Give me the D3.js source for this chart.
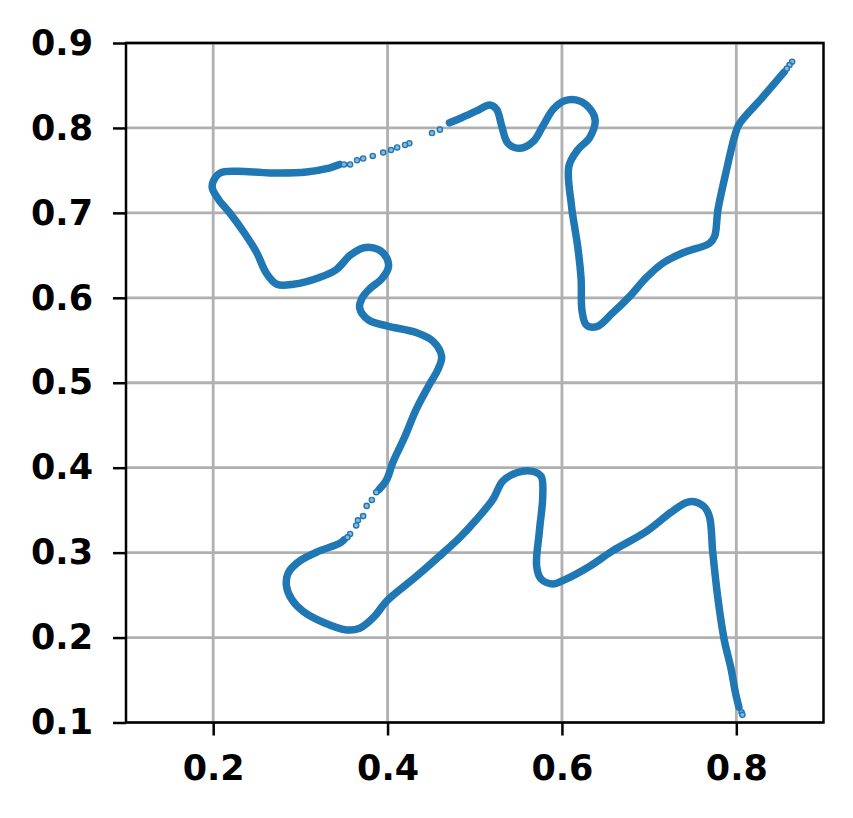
<!DOCTYPE html>
<html>
<head>
<meta charset="utf-8">
<script src="https://cdn.jsdelivr.net/npm/d3@7"></script>
<style>
  body { margin: 0; background: #fff; }
  svg { display: block; }
  .tick text { font-family: "DejaVu Sans", sans-serif; font-weight: bold; font-size: 35px; fill: #000; }
</style>
</head>
<body>
<svg width="853" height="818"></svg>
<script>
// traced points of the curve, dense stretches (drawn as a thick run of dots)
var upperRun = [
  [0.855,0.866],[0.830,0.836],[0.803,0.804],[0.798,0.790],[0.788,0.747],[0.779,0.704],
  [0.775,0.672],[0.769,0.664],[0.739,0.653],[0.716,0.641],[0.697,0.624],[0.678,0.602],
  [0.658,0.582],[0.640,0.566],[0.628,0.568],[0.623,0.585],[0.622,0.622],[0.618,0.661],
  [0.611,0.708],[0.608,0.755],[0.618,0.774],[0.632,0.789],[0.638,0.810],[0.628,0.827],
  [0.616,0.833],[0.603,0.832],[0.590,0.822],[0.578,0.802],[0.567,0.784],[0.552,0.776],
  [0.538,0.782],[0.531,0.802],[0.525,0.822],[0.517,0.827],[0.502,0.820],[0.485,0.812],
  [0.471,0.806]
];
var middleRun = [
  [0.345,0.757],[0.330,0.752],[0.307,0.748],[0.265,0.747],[0.227,0.749],[0.208,0.747],
  [0.200,0.737],[0.199,0.729],[0.206,0.716],[0.219,0.700],[0.236,0.676],[0.250,0.653],
  [0.261,0.629],[0.273,0.616],[0.292,0.616],[0.322,0.624],[0.341,0.633],[0.357,0.650],
  [0.373,0.659],[0.389,0.657],[0.399,0.647],[0.401,0.636],[0.393,0.622],[0.380,0.611],
  [0.371,0.600],[0.368,0.588],[0.378,0.574],[0.399,0.567],[0.433,0.559],[0.452,0.549],
  [0.462,0.531],[0.458,0.516],[0.448,0.498],[0.433,0.469],[0.420,0.437],[0.406,0.406],
  [0.399,0.386],[0.390,0.374]
];
var lowerRun = [
  [0.350,0.315],[0.345,0.311],[0.322,0.302],[0.299,0.290],[0.286,0.276],[0.284,0.261],
  [0.290,0.245],[0.303,0.231],[0.326,0.218],[0.353,0.209],[0.368,0.211],[0.385,0.225],
  [0.399,0.243],[0.433,0.272],[0.464,0.300],[0.483,0.318],[0.502,0.339],[0.521,0.363],
  [0.532,0.384],[0.548,0.394],[0.565,0.396],[0.576,0.390],[0.578,0.367],[0.574,0.324],
  [0.571,0.284],[0.576,0.269],[0.590,0.263],[0.601,0.267],[0.632,0.284],[0.658,0.302],
  [0.697,0.325],[0.727,0.349],[0.746,0.360],[0.762,0.355],[0.769,0.343],[0.773,0.300],
  [0.779,0.245],[0.786,0.198],[0.794,0.163],[0.799,0.135],[0.803,0.118]
];
// loose single points where the curve thins out
var looseDots = [
  [0.864,0.878],[0.861,0.874],[0.858,0.870],
  [0.460,0.798],[0.451,0.794],[0.425,0.782],[0.420,0.780],[0.411,0.777],[0.404,0.774],
  [0.395,0.771],[0.383,0.767],[0.372,0.764],[0.365,0.762],[0.357,0.757],[0.350,0.757],
  [0.387,0.371],[0.382,0.362],[0.376,0.355],[0.372,0.343],[0.366,0.338],[0.364,0.332],
  [0.357,0.322],[0.354,0.318],
  [0.806,0.112],[0.807,0.109]
];
var xTicks = [0.2, 0.4, 0.6, 0.8];
var yTicks = [0.1, 0.2, 0.3, 0.4, 0.5, 0.6, 0.7, 0.8, 0.9];

var svg = d3.select('svg');
var blue = '#1f77b4';

var x = d3.scaleLinear().domain([0.1, 0.9]).range([126, 823.5]);
var y = d3.scaleLinear().domain([0.1, 0.9]).range([722.5, 43]);

// grid
svg.append('g')
  .selectAll('line.vx')
  .data(xTicks)
  .enter().append('line')
    .attr('x1', d => x(d)).attr('x2', d => x(d))
    .attr('y1', y(0.1)).attr('y2', y(0.9))
    .attr('stroke', '#b0b0b0').attr('stroke-width', 2.8);
svg.append('g')
  .selectAll('line.hy')
  .data(yTicks)
  .enter().append('line')
    .attr('x1', x(0.1)).attr('x2', x(0.9))
    .attr('y1', d => y(d)).attr('y2', d => y(d))
    .attr('stroke', '#b0b0b0').attr('stroke-width', 2.8);

// curve
var line = d3.line()
  .x(d => x(d[0]))
  .y(d => y(d[1]))
  .curve(d3.curveCatmullRom.alpha(0.5));

svg.append('g')
  .selectAll('path')
  .data([upperRun, middleRun, lowerRun])
  .enter().append('path')
    .attr('d', line)
    .attr('fill', 'none')
    .attr('stroke', blue)
    .attr('stroke-width', 7.5)
    .attr('stroke-linecap', 'round')
    .attr('stroke-linejoin', 'round');

svg.append('g')
  .selectAll('circle')
  .data(looseDots)
  .enter().append('circle')
    .attr('cx', d => x(d[0]))
    .attr('cy', d => y(d[1]))
    .attr('r', 2.6)
    .attr('fill', '#8db8da')
    .attr('stroke', blue)
    .attr('stroke-width', 1.4);

// axes
var xAxis = svg.append('g')
  .attr('transform', 'translate(0,' + y(0.1) + ')')
  .call(d3.axisBottom(x).tickValues(xTicks).tickSize(13).tickPadding(20).tickFormat(d3.format('.1f')));
var yAxis = svg.append('g')
  .attr('transform', 'translate(' + x(0.1) + ',0)')
  .call(d3.axisLeft(y).tickValues(yTicks).tickSize(13).tickPadding(20).tickFormat(d3.format('.1f')));

[xAxis, yAxis].forEach(a => {
  a.select('.domain').remove();
  a.selectAll('.tick line').attr('stroke', '#000').attr('stroke-width', 2.5);
});

// frame
svg.append('rect')
  .attr('x', x(0.1)).attr('y', y(0.9))
  .attr('width', x(0.9) - x(0.1)).attr('height', y(0.1) - y(0.9))
  .attr('fill', 'none').attr('stroke', '#000').attr('stroke-width', 2.5);
</script>
</body>
</html>
